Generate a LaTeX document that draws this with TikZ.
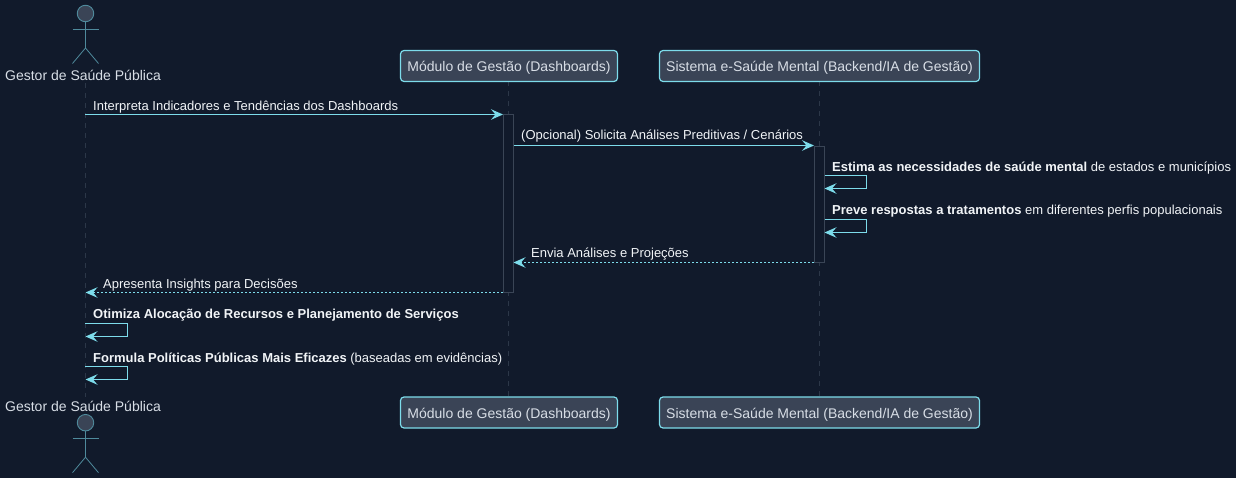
\documentclass[tikz,border=0pt]{standalone}
\usepackage{fontspec}
\setmainfont{Liberation Sans}
\usetikzlibrary{arrows.meta}
\definecolor{bgc}{HTML}{111A2B}
\definecolor{linec}{HTML}{7DDCEB}
\definecolor{partfill}{HTML}{3A4456}
\definecolor{actorline}{HTML}{4F8A9C}
\definecolor{lifec}{HTML}{3A4556}
\definecolor{lifedim}{HTML}{2C3748}
\definecolor{parttext}{HTML}{D8DEE6}
\definecolor{msgtext}{HTML}{F1F4F7}
\tikzset{
  x=1pt,y=-1pt,
  partbox/.style={draw=linec,fill=partfill,line width=1.2pt,rounded corners=3.5pt,inner sep=0pt,text=parttext,font=\fontsize{14}{16}\selectfont},
  actorlabel/.style={text=parttext,font=\fontsize{14}{16}\selectfont,inner sep=0pt,anchor=base},
  msglabel/.style={text=msgtext,font=\fontsize{13}{15}\selectfont,inner sep=0pt,anchor=base west},
  lifeline/.style={draw=lifedim,line width=0.8pt,dash pattern=on 5pt off 5pt},
  actbox/.style={draw=lifec,fill=bgc,line width=0.9pt},
  msgarrow/.style={draw=linec,line width=1.1pt,-{Stealth[length=12pt,width=10.5pt,inset=4.5pt,fill=linec]}},
  retarrow/.style={msgarrow,dash pattern=on 2pt off 2pt},
  actorpart/.style={draw=actorline,line width=0.8pt},
  actorhead/.style={draw=actorline,fill=partfill,line width=0.9pt,circle,minimum size=16.5pt,inner sep=0pt}
}
\newcommand{\actorfig}[2]{%
  \node[actorhead] (#2head) at (85.5,#1) {};
  \coordinate (#2neck) at (85.5,#1+8.3);
  \coordinate (#2crotch) at (85.5,#1+34.5);
  \coordinate (#2al) at (72.5,#1+15.5);
  \coordinate (#2ar) at (98.5,#1+15.5);
  \coordinate (#2fl) at (72.5,#1+50);
  \coordinate (#2fr) at (98.5,#1+50);
  \draw[actorpart] (#2neck) -- (#2crotch);
  \draw[actorpart] (#2al) -- (#2ar);
  \draw[actorpart] (#2fl) -- (#2crotch) -- (#2fr);
}
\newcommand{\parttxt}[1]{\raisebox{-6pt}[0pt][0pt]{#1}}
\begin{document}
\begin{tikzpicture}
\useasboundingbox (0,0) rectangle (1236,478);
\fill[bgc] (0,0) rectangle (1236,478);
% lifelines
\coordinate (l1t) at (85.5,83); \coordinate (l1b) at (85.5,397);
\coordinate (l2t) at (508.5,81); \coordinate (l2b) at (508.5,397);
\coordinate (l3t) at (819.5,81); \coordinate (l3b) at (819.5,397);
\draw[lifeline] (l1t) -- (l1b);
\draw[lifeline] (l2t) -- (l2b);
\draw[lifeline] (l3t) -- (l3b);
% actors
\actorfig{13.5}{top}
\actorfig{422.7}{bot}
\node[actorlabel] (actortop) at (83,81) {Gestor de Saúde Pública};
\node[actorlabel] (actorbot) at (83,411) {Gestor de Saúde Pública};
% participants
\node[partbox,minimum width=217pt,minimum height=31pt] (modtop) at (509,66) {\parttxt{Módulo de Gestão (Dashboards)}};
\node[partbox,minimum width=320pt,minimum height=31pt] (systop) at (819.5,66) {\parttxt{Sistema e-Saúde Mental (Backend/IA de Gestão)}};
\node[partbox,minimum width=217pt,minimum height=31pt] (modbot) at (509,412.5) {\parttxt{Módulo de Gestão (Dashboards)}};
\node[partbox,minimum width=320pt,minimum height=31pt] (sysbot) at (819.5,412.5) {\parttxt{Sistema e-Saúde Mental (Backend/IA de Gestão)}};
% activations
\draw[actbox] (503.5,114.5) rectangle (513.5,292.5);
\draw[actbox] (814.5,146) rectangle (824.5,262);
% endpoints
\coordinate (m1a) at (85,114.5); \coordinate (m1b) at (503,114.5);
\coordinate (m2a) at (513.5,145.5); \coordinate (m2b) at (814,145.5);
\coordinate (s1a) at (824.5,175.5); \coordinate (s1c) at (866.5,175.5); \coordinate (s1d) at (866.5,188.5); \coordinate (s1b) at (824.5,188.5);
\coordinate (s2a) at (824.5,219.5); \coordinate (s2c) at (866.5,219.5); \coordinate (s2d) at (866.5,232.5); \coordinate (s2b) at (824.5,232.5);
\coordinate (r1a) at (814,262.5); \coordinate (r1b) at (513.5,262.5);
\coordinate (r2a) at (503,292.5); \coordinate (r2b) at (85.5,292.5);
\coordinate (s3a) at (85,323.5); \coordinate (s3c) at (127.5,323.5); \coordinate (s3d) at (127.5,336.5); \coordinate (s3b) at (85.5,336.5);
\coordinate (s4a) at (85,366.5); \coordinate (s4c) at (127.5,366.5); \coordinate (s4d) at (127.5,379.5); \coordinate (s4b) at (85.5,379.5);
% messages
\draw[msgarrow] (m1a) -- (m1b);
\draw[msgarrow] (m2a) -- (m2b);
\draw[msgarrow] (s1a) -- (s1c) -- (s1d) -- (s1b);
\draw[msgarrow] (s2a) -- (s2c) -- (s2d) -- (s2b);
\draw[retarrow] (r1a) -- (r1b);
\draw[retarrow] (r2a) -- (r2b);
\draw[msgarrow] (s3a) -- (s3c) -- (s3d) -- (s3b);
\draw[msgarrow] (s4a) -- (s4c) -- (s4d) -- (s4b);
% labels
\node[msglabel] (t1) at (93,111) {Interpreta Indicadores e Tendências dos Dashboards};
\node[msglabel] (t2) at (521,140) {(Opcional) Solicita Análises Preditivas / Cenários};
\node[msglabel] (t3) at (832,172) {\textbf{Estima as necessidades de saúde mental} de estados e municípios};
\node[msglabel] (t4) at (832,215) {\textbf{Preve respostas a tratamentos} em diferentes perfis populacionais};
\node[msglabel] (t5) at (531,258) {Envia Análises e Projeções};
\node[msglabel] (t6) at (103,288) {Apresenta Insights para Decisões};
\node[msglabel] (t7) at (93,318) {\textbf{Otimiza Alocação de Recursos e Planejamento de Serviços}};
\node[msglabel] (t8) at (93,362) {\textbf{Formula Políticas Públicas Mais Eficazes} (baseadas em evidências)};
\end{tikzpicture}
\end{document}
